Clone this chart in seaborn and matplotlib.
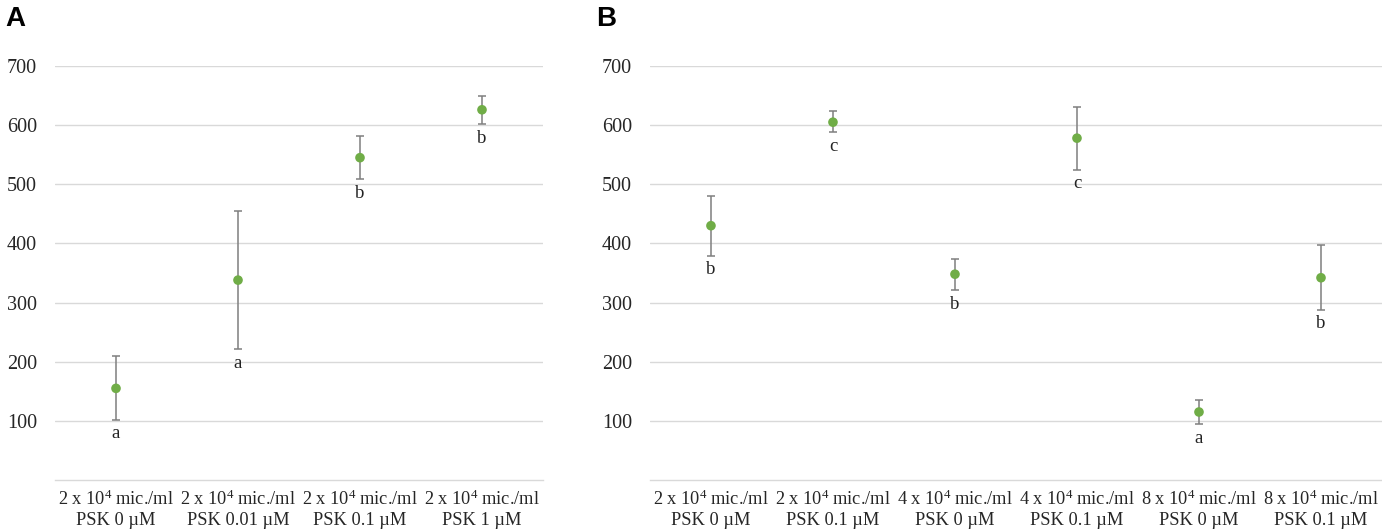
import matplotlib
matplotlib.use("Agg")
import matplotlib.pyplot as plt
import seaborn as sns
import numpy as np
import pandas as pd

# ---- data ----
cats_a = ["2 x 10$^4$ mic./ml\nPSK 0 µM", "2 x 10$^4$ mic./ml\nPSK 0.01 µM",
          "2 x 10$^4$ mic./ml\nPSK 0.1 µM", "2 x 10$^4$ mic./ml\nPSK 1 µM"]
mean_a = [155, 338, 545, 626]
low_a = [102, 221, 509, 602]
high_a = [210, 455, 581, 650]
letters_a = ["a", "a", "b", "b"]

cats_b = ["2 x 10$^4$ mic./ml\nPSK 0 µM", "2 x 10$^4$ mic./ml\nPSK 0.1 µM",
          "4 x 10$^4$ mic./ml\nPSK 0 µM", "4 x 10$^4$ mic./ml\nPSK 0.1 µM",
          "8 x 10$^4$ mic./ml\nPSK 0 µM", "8 x 10$^4$ mic./ml\nPSK 0.1 µM"]
mean_b = [430, 605, 348, 578, 115, 342]
low_b = [379, 588, 321, 525, 94, 288]
high_b = [481, 624, 374, 631, 135, 398]
letters_b = ["b", "c", "b", "c", "a", "b"]

yticks = [100, 200, 300, 400, 500, 600, 700]

sns.set_theme(style="white")
plt.rcParams["font.family"] = ["Liberation Serif", "DejaVu Serif"]
plt.rcParams["mathtext.fontset"] = "custom"
plt.rcParams["mathtext.rm"] = "Liberation Serif"
plt.rcParams["mathtext.it"] = "Liberation Serif:italic"

fig = plt.figure(figsize=(13.82, 5.31), dpi=100)
ax_a = fig.add_axes([0.0398, 0.0960, 0.3531, 0.7797])
ax_b = fig.add_axes([0.4703, 0.0960, 0.5297, 0.7797])

green = "#70ad47"
errc = "#7f7f7f"

def draw(ax, cats, mean, low, high, letters):
    df = pd.DataFrame({"cat": cats, "mean": mean})
    pos = np.arange(len(cats))
    ax.errorbar(pos, mean,
                yerr=[np.array(mean) - np.array(low), np.array(high) - np.array(mean)],
                fmt="none", ecolor=errc, elinewidth=1.1, capsize=3.2, capthick=1.1, zorder=2)
    sns.scatterplot(data=df, x="cat", y="mean", ax=ax, color=green, s=48,
                    edgecolor="none", zorder=3, legend=False)
    for p, lo, l in zip(pos, low, letters):
        ax.annotate(l, (p, lo), xytext=(0, -4), textcoords="offset points",
                    ha="center", va="top", fontsize=13.5, color="#222222")
    ax.set_xlim(-0.5, len(cats) - 0.5)
    ax.set_ylim(0, 700)
    ax.set_yticks(yticks)
    ax.set_xticks(pos)
    ax.set_xticklabels(cats)
    ax.set_xlabel("")
    ax.set_ylabel("")
    ax.grid(axis="y", color="#d9d9d9", linewidth=1)
    ax.set_axisbelow(True)
    for s in ["top", "right", "left"]:
        ax.spines[s].set_visible(False)
    ax.spines["bottom"].set_color("#d9d9d9")
    ax.spines["bottom"].set_linewidth(1)
    ax.tick_params(axis="both", length=0, labelcolor="#262626")
    ax.tick_params(axis="y", pad=13, labelsize=14.5)
    ax.tick_params(axis="x", pad=7, labelsize=13.2)
    for t in ax.get_xticklabels():
        t.set_linespacing(1.2)

draw(ax_a, cats_a, mean_a, low_a, high_a, letters_a)
draw(ax_b, cats_b, mean_b, low_b, high_b, letters_b)

fig.text(0.004, 0.988, "A", fontsize=20, fontweight="bold", family="Liberation Sans",
         va="top", ha="left", color="black")
fig.text(0.431, 0.988, "B", fontsize=20, fontweight="bold", family="Liberation Sans",
         va="top", ha="left", color="black")

fig.savefig("out.png", dpi=100)
